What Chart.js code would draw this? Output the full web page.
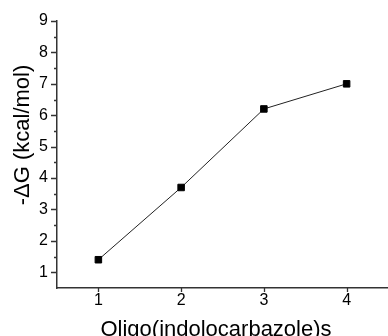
<!DOCTYPE html>
<html>
<head>
<meta charset="utf-8">
<script src="https://cdn.jsdelivr.net/npm/chart.js@4/dist/chart.umd.min.js"></script>
<style>
  html, body { margin: 0; padding: 0; background: #fff; }
  #wrap { width: 388px; height: 336px; position: relative; }
</style>
</head>
<body>
<div id="wrap"><canvas id="c" width="388" height="336"></canvas></div>
<script>
const categories = [1, 2, 3, 4];
const deltaG = [1.4, 3.7, 6.2, 7.0];
const xTicks = [1, 2, 3, 4];
const yTicks = [1, 2, 3, 4, 5, 6, 7, 8, 9];
const yMinorTicks = [1.5, 2.5, 3.5, 4.5, 5.5, 6.5, 7.5, 8.5];
const xTitle = 'Oligo(indolocarbazole)s';
const yTitle = '-\u0394G (kcal/mol)';

const AXIS = '#333333';
const FONT = "'Liberation Sans', Arial, sans-serif";

const tickPlugin = {
  id: 'axisTicks',
  afterDraw(chart) {
    const ctx = chart.ctx;
    const xs = chart.scales.x, ys = chart.scales.y;
    const ca = chart.chartArea;
    ctx.save();
    ctx.strokeStyle = AXIS;
    ctx.lineWidth = 1.3;
    ctx.beginPath();
    yTicks.forEach(v => {
      const p = Math.round(ys.getPixelForValue(v)) + 0.5;
      ctx.moveTo(ca.left - 6, p); ctx.lineTo(ca.left, p);
    });
    yMinorTicks.forEach(v => {
      const p = Math.round(ys.getPixelForValue(v)) + 0.5;
      ctx.moveTo(ca.left - 3, p); ctx.lineTo(ca.left, p);
    });
    xTicks.forEach(v => {
      const p = Math.round(xs.getPixelForValue(v)) + 0.5;
      ctx.moveTo(p, ca.bottom); ctx.lineTo(p, ca.bottom + 4);
    });
    ctx.stroke();

    // axis titles
    ctx.fillStyle = '#000';
    ctx.font = "22px " + FONT;
    ctx.textAlign = 'center';
    ctx.textBaseline = 'alphabetic';
    ctx.fillText(xTitle, 216, 336);
    ctx.translate(29, 135);
    ctx.rotate(-Math.PI / 2);
    ctx.fillText(yTitle, 0, 0);
    ctx.restore();
  }
};

new Chart(document.getElementById('c'), {
  type: 'scatter',
  data: {
    datasets: [{
      data: categories.map((c, i) => ({ x: c, y: deltaG[i] })),
      showLine: true,
      borderColor: '#222222',
      borderWidth: 1,
      pointStyle: 'rect',
      pointRadius: 4.6,
      pointHoverRadius: 4.6,
      pointBackgroundColor: '#000000',
      pointBorderColor: '#000000',
      pointBorderWidth: 1
    }]
  },
  options: {
    responsive: false,
    animation: false,
    events: [],
    layout: { autoPadding: false, padding: { top: 21, right: 0, left: 0, bottom: 0 } },
    plugins: { legend: { display: false }, tooltip: { enabled: false } },
    scales: {
      x: {
        type: 'linear',
        min: 0.5,
        max: 4.5,
        afterBuildTicks: s => { s.ticks = xTicks.map(v => ({ value: v })); },
        afterFit: s => { s.height = 48; s.paddingLeft = 0; s.paddingRight = 0; },
        grid: { display: false, drawTicks: false },
        border: { display: true, color: AXIS, width: 1.5 },
        ticks: {
          padding: 3,
          color: '#000',
          font: { family: FONT, size: 16 },
          maxRotation: 0,
          autoSkip: false
        },
        title: { display: false }
      },
      y: {
        type: 'linear',
        min: 0.5,
        max: 9,
        afterBuildTicks: s => { s.ticks = yTicks.map(v => ({ value: v })); },
        afterFit: s => { s.width = 57; },
        grid: { display: false, drawTicks: false },
        border: { display: true, color: AXIS, width: 1.5 },
        ticks: {
          padding: 9,
          color: '#000',
          font: { family: FONT, size: 16 },
          autoSkip: false
        },
        title: { display: false }
      }
    }
  },
  plugins: [tickPlugin]
});
</script>
</body>
</html>
